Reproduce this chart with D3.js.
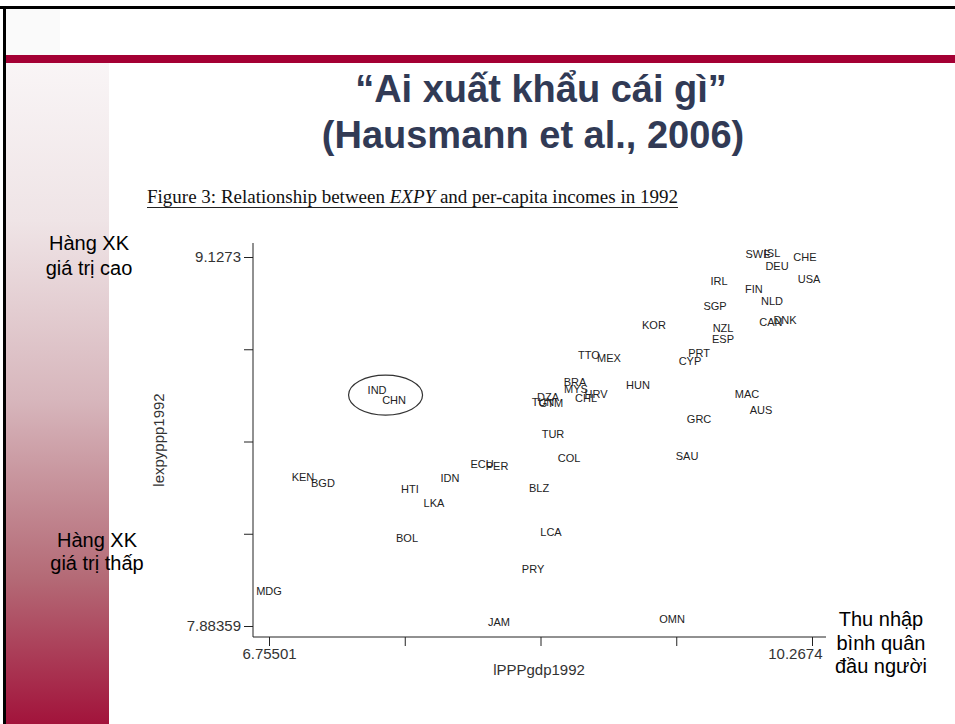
<!DOCTYPE html>
<meta charset="utf-8">
<style>

body {
  margin: 0;
  background: #fff;
}

svg {
  display: block;
  font-family: "Liberation Sans", Arial, sans-serif;
}

.title {
  font-size: 38px;
  font-weight: bold;
  fill: #313a55;
}

.caption {
  font-family: "Liberation Serif", "Times New Roman", serif;
  font-size: 19px;
  fill: #111;
}

.note {
  font-size: 20px;
  fill: #000;
}

.axis text {
  font-size: 15px;
  fill: #333;
}

.axis line, .axis path {
  stroke: #222;
}

.country {
  font-size: 11px;
  fill: #222;
}

</style>
<body>
<script src="https://d3js.org/d3.v7.min.js"></script>
<script>

var countries = ["SWE","ISL","DEU","CHE","USA","IRL","FIN","NLD","SGP","KOR","CAN","DNK","NZL","ESP","PRT","CYP","TTO","MEX","BRA","MYS","HUN","MAC","DZA","TUN","GTM","CHL","HRV","AUS","GRC","TUR","SAU","COL","ECU","PER","KEN","BGD","IDN","HTI","BLZ","LKA","LCA","BOL","PRY","MDG","JAM","OMN","IND","CHN"];
var lgdp = [9.918,10.009,10.041,10.222,10.248,9.666,9.892,10.009,9.640,9.245,10.002,10.093,9.692,9.692,9.537,9.478,8.825,8.954,8.734,8.741,9.142,9.847,8.560,8.527,8.579,8.806,8.870,9.938,9.537,8.592,9.459,8.696,8.133,8.230,6.975,7.104,7.926,7.667,8.502,7.822,8.579,7.648,8.463,6.755,8.243,9.362,7.454,7.564];
var lexpy = [9.137,9.141,9.097,9.127,9.053,9.046,9.019,8.979,8.962,8.898,8.908,8.915,8.888,8.851,8.804,8.777,8.797,8.787,8.706,8.682,8.696,8.666,8.655,8.639,8.635,8.652,8.666,8.612,8.581,8.531,8.457,8.450,8.430,8.423,8.386,8.366,8.382,8.345,8.349,8.298,8.200,8.180,8.076,8.002,7.897,7.907,8.679,8.645];

var xEnds = [6.75501, 10.2674];
var yEnds = [7.88359, 9.1273];
var xTickLabels = ["6.75501", "", "", "", "10.2674"];
var yTickLabels = ["7.88359", "", "", "", "9.1273"];

var width = 955,
    height = 724;

var svg = d3.select("body").append("svg")
    .attr("width", width)
    .attr("height", height);

// slide background
var grad = svg.append("defs").append("linearGradient")
    .attr("id", "side")
    .attr("x1", 0).attr("y1", 0).attr("x2", 0).attr("y2", 1);
[["0%", "#f9f5f6"], ["24%", "#efe4e6"], ["51%", "#d7b6bc"], ["78%", "#b46a76"], ["100%", "#a2133b"]]
  .forEach(function(s) {
    grad.append("stop").attr("offset", s[0]).attr("stop-color", s[1]);
  });

svg.append("rect")
    .attr("x", 6).attr("y", 9).attr("width", 54).attr("height", 46)
    .attr("fill", "#fafafa");

svg.append("rect")
    .attr("x", 6).attr("y", 62).attr("width", 103).attr("height", height - 62)
    .attr("fill", "url(#side)");

svg.append("rect")
    .attr("x", 6).attr("y", 55).attr("width", width - 6).attr("height", 8)
    .attr("fill", "#a40034");

svg.append("rect")
    .attr("x", 0).attr("y", 6).attr("width", width).attr("height", 3)
    .attr("fill", "#000");
svg.append("rect")
    .attr("x", 3).attr("y", 6).attr("width", 3).attr("height", height - 6)
    .attr("fill", "#000");

svg.append("text")
    .attr("class", "title")
    .attr("x", 541).attr("y", 102)
    .attr("text-anchor", "middle")
    .text("\u201cAi xuất khẩu cái gì\u201d");

svg.append("text")
    .attr("class", "title")
    .attr("x", 533).attr("y", 148)
    .attr("text-anchor", "middle")
    .text("(Hausmann et al., 2006)");

var cap = svg.append("text")
    .attr("class", "caption")
    .attr("x", 147).attr("y", 203);
cap.append("tspan").text("Figure 3: Relationship between ");
cap.append("tspan").attr("font-style", "italic").text("EXPY");
cap.append("tspan").text(" and per-capita incomes in 1992");
var capW = cap.node().getComputedTextLength();
svg.append("line")
    .attr("x1", 147).attr("x2", 147 + capW)
    .attr("y1", 207.5).attr("y2", 207.5)
    .attr("stroke", "#222").attr("stroke-width", 1);

// side notes
function note(lines, x, y0, dy) {
  var t = svg.append("text").attr("class", "note").attr("text-anchor", "middle");
  lines.forEach(function(l, i) {
    t.append("tspan").attr("x", x).attr("y", y0 + i * dy).text(l);
  });
}
note(["Hàng XK", "giá trị cao"], 89, 250, 25);
note(["Hàng XK", "giá trị thấp"], 97, 547, 23);
note(["Thu nhập", "bình quân", "đầu người"], 881, 626, 23.5);

// scatter
var x = d3.scaleLinear().domain(xEnds).range([269, 812]);
var y = d3.scaleLinear().domain(yEnds).range([626, 257]);

var xTicks = d3.range(5).map(function(i) { return xEnds[0] + i * (xEnds[1] - xEnds[0]) / 4; });
var yTicks = d3.range(5).map(function(i) { return yEnds[0] + i * (yEnds[1] - yEnds[0]) / 4; });

var axisX = 253, axisY = 637;

var gy = svg.append("g")
    .attr("class", "axis")
    .attr("transform", "translate(" + axisX + ",0)")
    .call(d3.axisLeft(y).tickValues(yTicks).tickSizeOuter(0).tickSize(9).tickPadding(3)
      .tickFormat(function(d, i) { return yTickLabels[i]; }));
gy.select(".domain").remove();
gy.append("line")
    .attr("x1", 0).attr("x2", 0)
    .attr("y1", 243).attr("y2", axisY)
    .attr("stroke", "#222");

var gx = svg.append("g")
    .attr("class", "axis")
    .attr("transform", "translate(0," + axisY + ")")
    .call(d3.axisBottom(x).tickValues(xTicks).tickSizeOuter(0).tickSize(9).tickPadding(2)
      .tickFormat(function(d, i) { return xTickLabels[i]; }));
gx.select(".domain").remove();
gx.append("line")
    .attr("x1", axisX).attr("x2", 826)
    .attr("y1", 0).attr("y2", 0)
    .attr("stroke", "#222");
gx.selectAll(".tick text")
    .filter(function(d, i) { return i === 4; })
    .attr("text-anchor", "end")
    .attr("dx", 10);

svg.append("text")
    .attr("transform", "translate(164," + 440 + ") rotate(-90)")
    .attr("text-anchor", "middle")
    .style("font-size", "15px")
    .style("fill", "#333")
    .text("lexpyppp1992");

svg.append("text")
    .attr("x", 539).attr("y", 675)
    .attr("text-anchor", "middle")
    .style("font-size", "15px")
    .style("fill", "#333")
    .text("lPPPgdp1992");

svg.selectAll(".country")
    .data(countries)
  .enter().append("text")
    .attr("class", "country")
    .attr("x", function(d, i) { return x(lgdp[i]); })
    .attr("y", function(d, i) { return y(lexpy[i]); })
    .attr("text-anchor", "middle")
    .attr("dy", "0.35em")
    .text(function(d) { return d; });

// circle around India and China
var ic = [countries.indexOf("IND"), countries.indexOf("CHN")];
svg.append("ellipse")
    .attr("cx", (x(lgdp[ic[0]]) + x(lgdp[ic[1]])) / 2)
    .attr("cy", (y(lexpy[ic[0]]) + y(lexpy[ic[1]])) / 2)
    .attr("rx", 37).attr("ry", 20)
    .attr("fill", "none")
    .attr("stroke", "#333")
    .attr("stroke-width", 1.2);

</script>
